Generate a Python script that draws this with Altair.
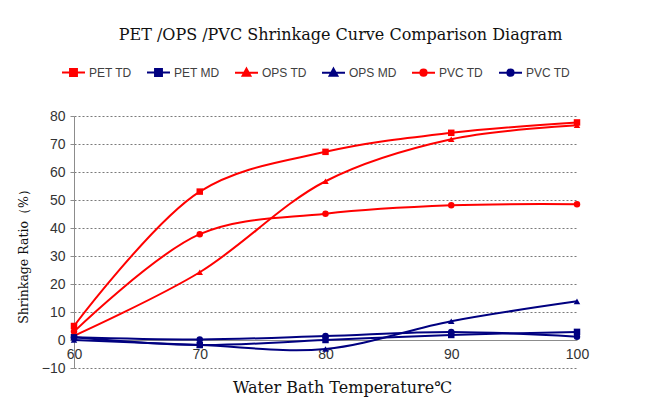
import altair as alt
import pandas as pd

temps = [60, 70, 80, 90, 100]
series_names = ["PET TD", "PET MD", "OPS TD", "OPS MD", "PVC TD", "PVC MD"]
pet_td = [5.0, 53.0, 67.2, 74.0, 77.7]
pet_md = [1.0, -1.8, 0.0, 1.8, 2.9]
ops_td = [1.5, 24.2, 56.7, 71.7, 76.7]
ops_md = [0.0, -1.8, -3.2, 6.7, 13.8]
pvc_td = [3.0, 37.8, 45.1, 48.1, 48.5]
pvc_md = [1.0, 0.2, 1.4, 2.9, 1.2]
series_values = [pet_td, pet_md, ops_td, ops_md, pvc_td, pvc_md]

colors = ["#FF0000", "#000080", "#FF0000", "#000080", "#FF0000", "#000080"]
marker_shapes = ["square", "square", "triangle-up", "triangle-up", "circle", "circle"]
legend_shapes = [
    "M-1,0L1,0M-0.3,-0.3L0.3,-0.3L0.3,0.3L-0.3,0.3Z",
    "M-1,0L1,0M-0.3,-0.3L0.3,-0.3L0.3,0.3L-0.3,0.3Z",
    "M-1,0L1,0M0,-0.36L0.34,0.26L-0.34,0.26Z",
    "M-1,0L1,0M0,-0.36L0.34,0.26L-0.34,0.26Z",
    "M-1,0L1,0M-0.27,0A0.27,0.27,0,1,0,0.27,0A0.27,0.27,0,1,0,-0.27,0Z",
    "M-1,0L1,0M-0.27,0A0.27,0.27,0,1,0,0.27,0A0.27,0.27,0,1,0,-0.27,0Z",
]
y_ticks = [-10, 0, 10, 20, 30, 40, 50, 60, 70, 80]

rows = []
for name, vals in zip(series_names, series_values):
    for t, v in zip(temps, vals):
        rows.append({"temp": t, "value": v, "series": name})
df = pd.DataFrame(rows)

x_enc = alt.X(
    "temp:Q",
    scale=alt.Scale(domain=[60, 100], nice=False, zero=False),
    axis=alt.Axis(
        values=temps, offset=-28, grid=False, ticks=False, labelFlush=False,
        domainColor="#8c8c8c", domainWidth=1,
        labelFont="Liberation Sans", labelFontSize=14, labelColor="#333333",
        labelPadding=7,
        title="Water Bath Temperature℃", titleFont="DejaVu Serif",
        titleFontSize=16, titleFontWeight="normal", titleColor="#111111",
        titleX=268, titleY=47, titleBaseline="middle", titleAlign="center",
    ),
)
y_enc = alt.Y(
    "value:Q",
    scale=alt.Scale(domain=[-10, 80], nice=False, zero=False),
    axis=alt.Axis(
        values=y_ticks, grid=True, gridDash=[2, 2], gridColor="#7a7a7a",
        gridWidth=1, domainColor="#8c8c8c", tickColor="#8c8c8c", tickSize=4,
        labelFont="Liberation Sans", labelFontSize=14, labelColor="#333333",
        labelPadding=5,
        title="Shrinkage Ratio（%）", titleFont="DejaVu Serif",
        titleFontSize=12.5, titleFontWeight="normal", titleColor="#111111",
        titleX=-51, titleY=137, titleBaseline="middle", titleAlign="center",
        titleAngle=270,
    ),
)

line_color = alt.Color("series:N", scale=alt.Scale(domain=series_names, range=colors), legend=None)

lines = alt.Chart(df).mark_line(interpolate="catmull-rom", strokeWidth=2).encode(
    x=x_enc, y=y_enc, color=line_color, detail="series:N"
)

points = alt.Chart(df).mark_point(filled=True, opacity=1).encode(
    x=x_enc, y=y_enc,
    color=alt.Color("series:N", scale=alt.Scale(domain=series_names, range=colors), legend=None),
    shape=alt.Shape("series:N", scale=alt.Scale(domain=series_names, range=marker_shapes), legend=None),
    size=alt.Size("series:N", scale=alt.Scale(domain=series_names, range=[42, 42, 55, 55, 30, 30]), legend=None),
)

leg = alt.Legend(
    title=None, orient="none", direction="horizontal", columns=6,
    legendX=-13, legendY=-56,
    symbolSize=529, symbolStrokeWidth=2, symbolOpacity=1,
    labelFont="Liberation Sans", labelFontSize=12, labelColor="#404040",
    labelOffset=3, columnPadding=11,
    labelExpr="datum.label == 'PVC MD' ? 'PVC TD' : datum.label",
)

legend_layer = alt.Chart(df).mark_point(filled=True, opacity=0).encode(
    x=x_enc, y=y_enc,
    color=alt.Color("series:N", scale=alt.Scale(domain=series_names, range=colors), legend=leg),
    stroke=alt.Stroke("series:N", scale=alt.Scale(domain=series_names, range=colors), legend=leg),
    shape=alt.Shape("series:N", scale=alt.Scale(domain=series_names, range=legend_shapes), legend=leg),
)

chart = (
    alt.layer(lines, points, legend_layer)
    .resolve_scale(color="independent", shape="independent", stroke="independent", size="independent")
    .properties(
        width=503, height=252,
        autosize=alt.AutoSizeParams(type="none"),
        padding={"left": 66, "top": 108, "right": 74, "bottom": 35},
        title=alt.Title(
            "PET /OPS /PVC Shrinkage Curve Comparison Diagram",
            font="DejaVu Serif", fontSize=16, fontWeight="normal", color="#111111",
            anchor="middle", offset=17, dx=15,
        ),
    )
    .configure_view(stroke=None)
)

chart.save("out.html", embed_options={"renderer": "svg", "actions": False})
